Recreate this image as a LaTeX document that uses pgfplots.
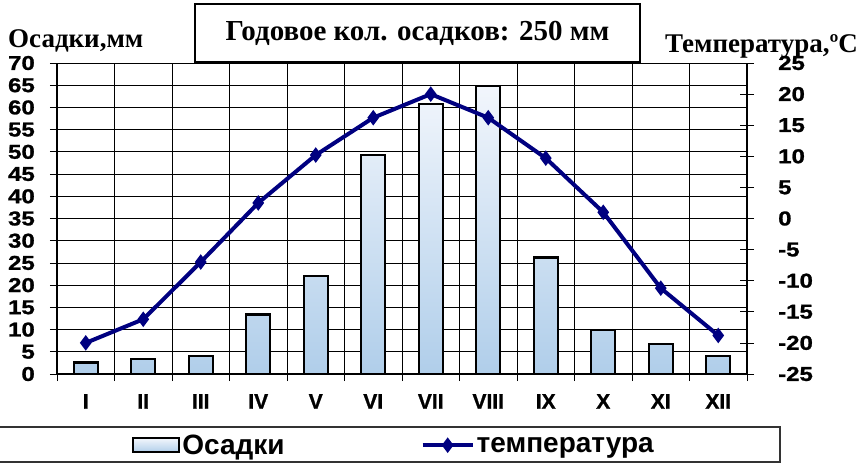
\documentclass[border=0pt]{standalone}
\usepackage{fontspec}
\setmainfont{Liberation Sans}
\newfontfamily\tnr{Liberation Serif}
\newfontfamily\tickfont{Liberation Sans}[UprightFont={* Bold}, BoldFont={* Bold}, FakeStretch=1.2, FakeBold=1.2]
\newfontfamily\xtickfont{Liberation Sans}[UprightFont={* Bold}, BoldFont={* Bold}, FakeBold=1]
\usepackage{pgfplots}
\pgfplotsset{compat=1.18}
\definecolor{navyline}{RGB}{0,0,128}
\definecolor{barTop}{RGB}{242,246,252}
\definecolor{barBot}{RGB}{176,206,234}
\begin{document}
\begin{tikzpicture}[x=1pt,y=1pt]
\begin{axis}[
  at={(57pt,90pt)}, anchor=south west, scale only axis,
  width=690pt, height=311pt,
  xmin=0.5, xmax=12.5, ymin=0, ymax=70,
  axis line style={black, line width=1.4pt},
  xtick={1,...,12},
  xticklabels={I,II,III,IV,V,VI,VII,VIII,IX,X,XI,XII},
  major x tick style={draw=none},
  minor xtick={0.5,1.5,...,12.5},
  xminorgrids, minor x grid style={black, line width=0.8pt},
  minor tick length=7pt,
  ytick={0,5,...,70},
  ymajorgrids, major y grid style={black, line width=0.8pt},
  major tick length=7pt,
  tick align=outside, tick style={black, line width=0.8pt},
  axis y line*=left, axis x line*=bottom,
  /pgf/number format/assume math mode=true,
  yticklabel style={font=\tickfont\fontsize{20}{20}\selectfont, inner sep=0pt, xshift=-15pt},
  xticklabel style={font=\xtickfont\fontsize{21}{21}\selectfont, inner sep=0pt, yshift=-13pt},
]
\addplot[ybar, bar width=24pt, draw=black, line width=2.2pt, top color=barTop, bottom color=barBot]
  coordinates {(1,2.6) (2,3.3) (3,4.0) (4,13.4) (5,22.1) (6,49.3) (7,60.8) (8,64.9) (9,26.2) (10,9.9) (11,6.8) (12,4.0)};
\end{axis}
\begin{axis}[
  at={(57pt,90pt)}, anchor=south west, scale only axis,
  width=690pt, height=311pt,
  xmin=0.5, xmax=12.5, ymin=-25, ymax=25,
  axis x line=none, axis y line*=right,
  axis line style={black, line width=1.4pt},
  ytick={-25,-20,...,25},
  tick align=center, major tick length=14pt, tick style={black, line width=0.8pt},
  /pgf/number format/assume math mode=true,
  yticklabel style={font=\tickfont\fontsize{20}{20}\selectfont, inner sep=0pt, xshift=24pt},
  legend columns=2,
  legend style={at={(0.1087,-0.229)}, anchor=west, draw=none, fill=none,
    inner xsep=0pt, inner ysep=0pt,
    font=\bfseries\fontsize{28}{28}\selectfont,
    /tikz/every even column/.append style={column sep=134pt}},
]
\addlegendimage{legend image code/.code={\draw[black, line width=2.2pt, top color=barTop, bottom color=barBot] (0pt,-7pt) rectangle (46pt,7pt);}}
\addlegendentry{Осадки}
\addplot[color=navyline, line width=4pt, mark=diamond*, mark size=4.5pt, mark options={solid},
  legend image code/.code={\draw[navyline, line width=4pt] (0pt,0pt) -- (50pt,0pt);
     \draw[navyline, mark=diamond*, mark size=4.5pt] plot coordinates {(25pt,0pt)};}]
  coordinates {(1,-20) (2,-16.2) (3,-7) (4,2.5) (5,10.2) (6,16.2) (7,20) (8,16.2) (9,9.7) (10,1) (11,-11.2) (12,-18.8)};
\addlegendentry{температура}
\end{axis}
\draw[line width=2pt, fill=white] (195,402) rectangle (640,460);
\node[font=\tnr\bfseries\fontsize{29}{29}\selectfont, inner sep=0pt] at (417.5,431) {Годовое кол. осадков: 250 мм};
\node[font=\tnr\bfseries\fontsize{27}{27}\selectfont, inner sep=0pt, anchor=base west] at (8,416) {Осадки,мм};
\node[font=\tnr\bfseries\fontsize{27}{27}\selectfont, inner sep=0pt, anchor=base west] at (665,411) {Температура,ºC};
\draw[line width=1.2pt, black!80] (-5,2) rectangle (780,37);
\pgfresetboundingbox
\useasboundingbox (0,0) rectangle (868,464);
\end{tikzpicture}
\end{document}
